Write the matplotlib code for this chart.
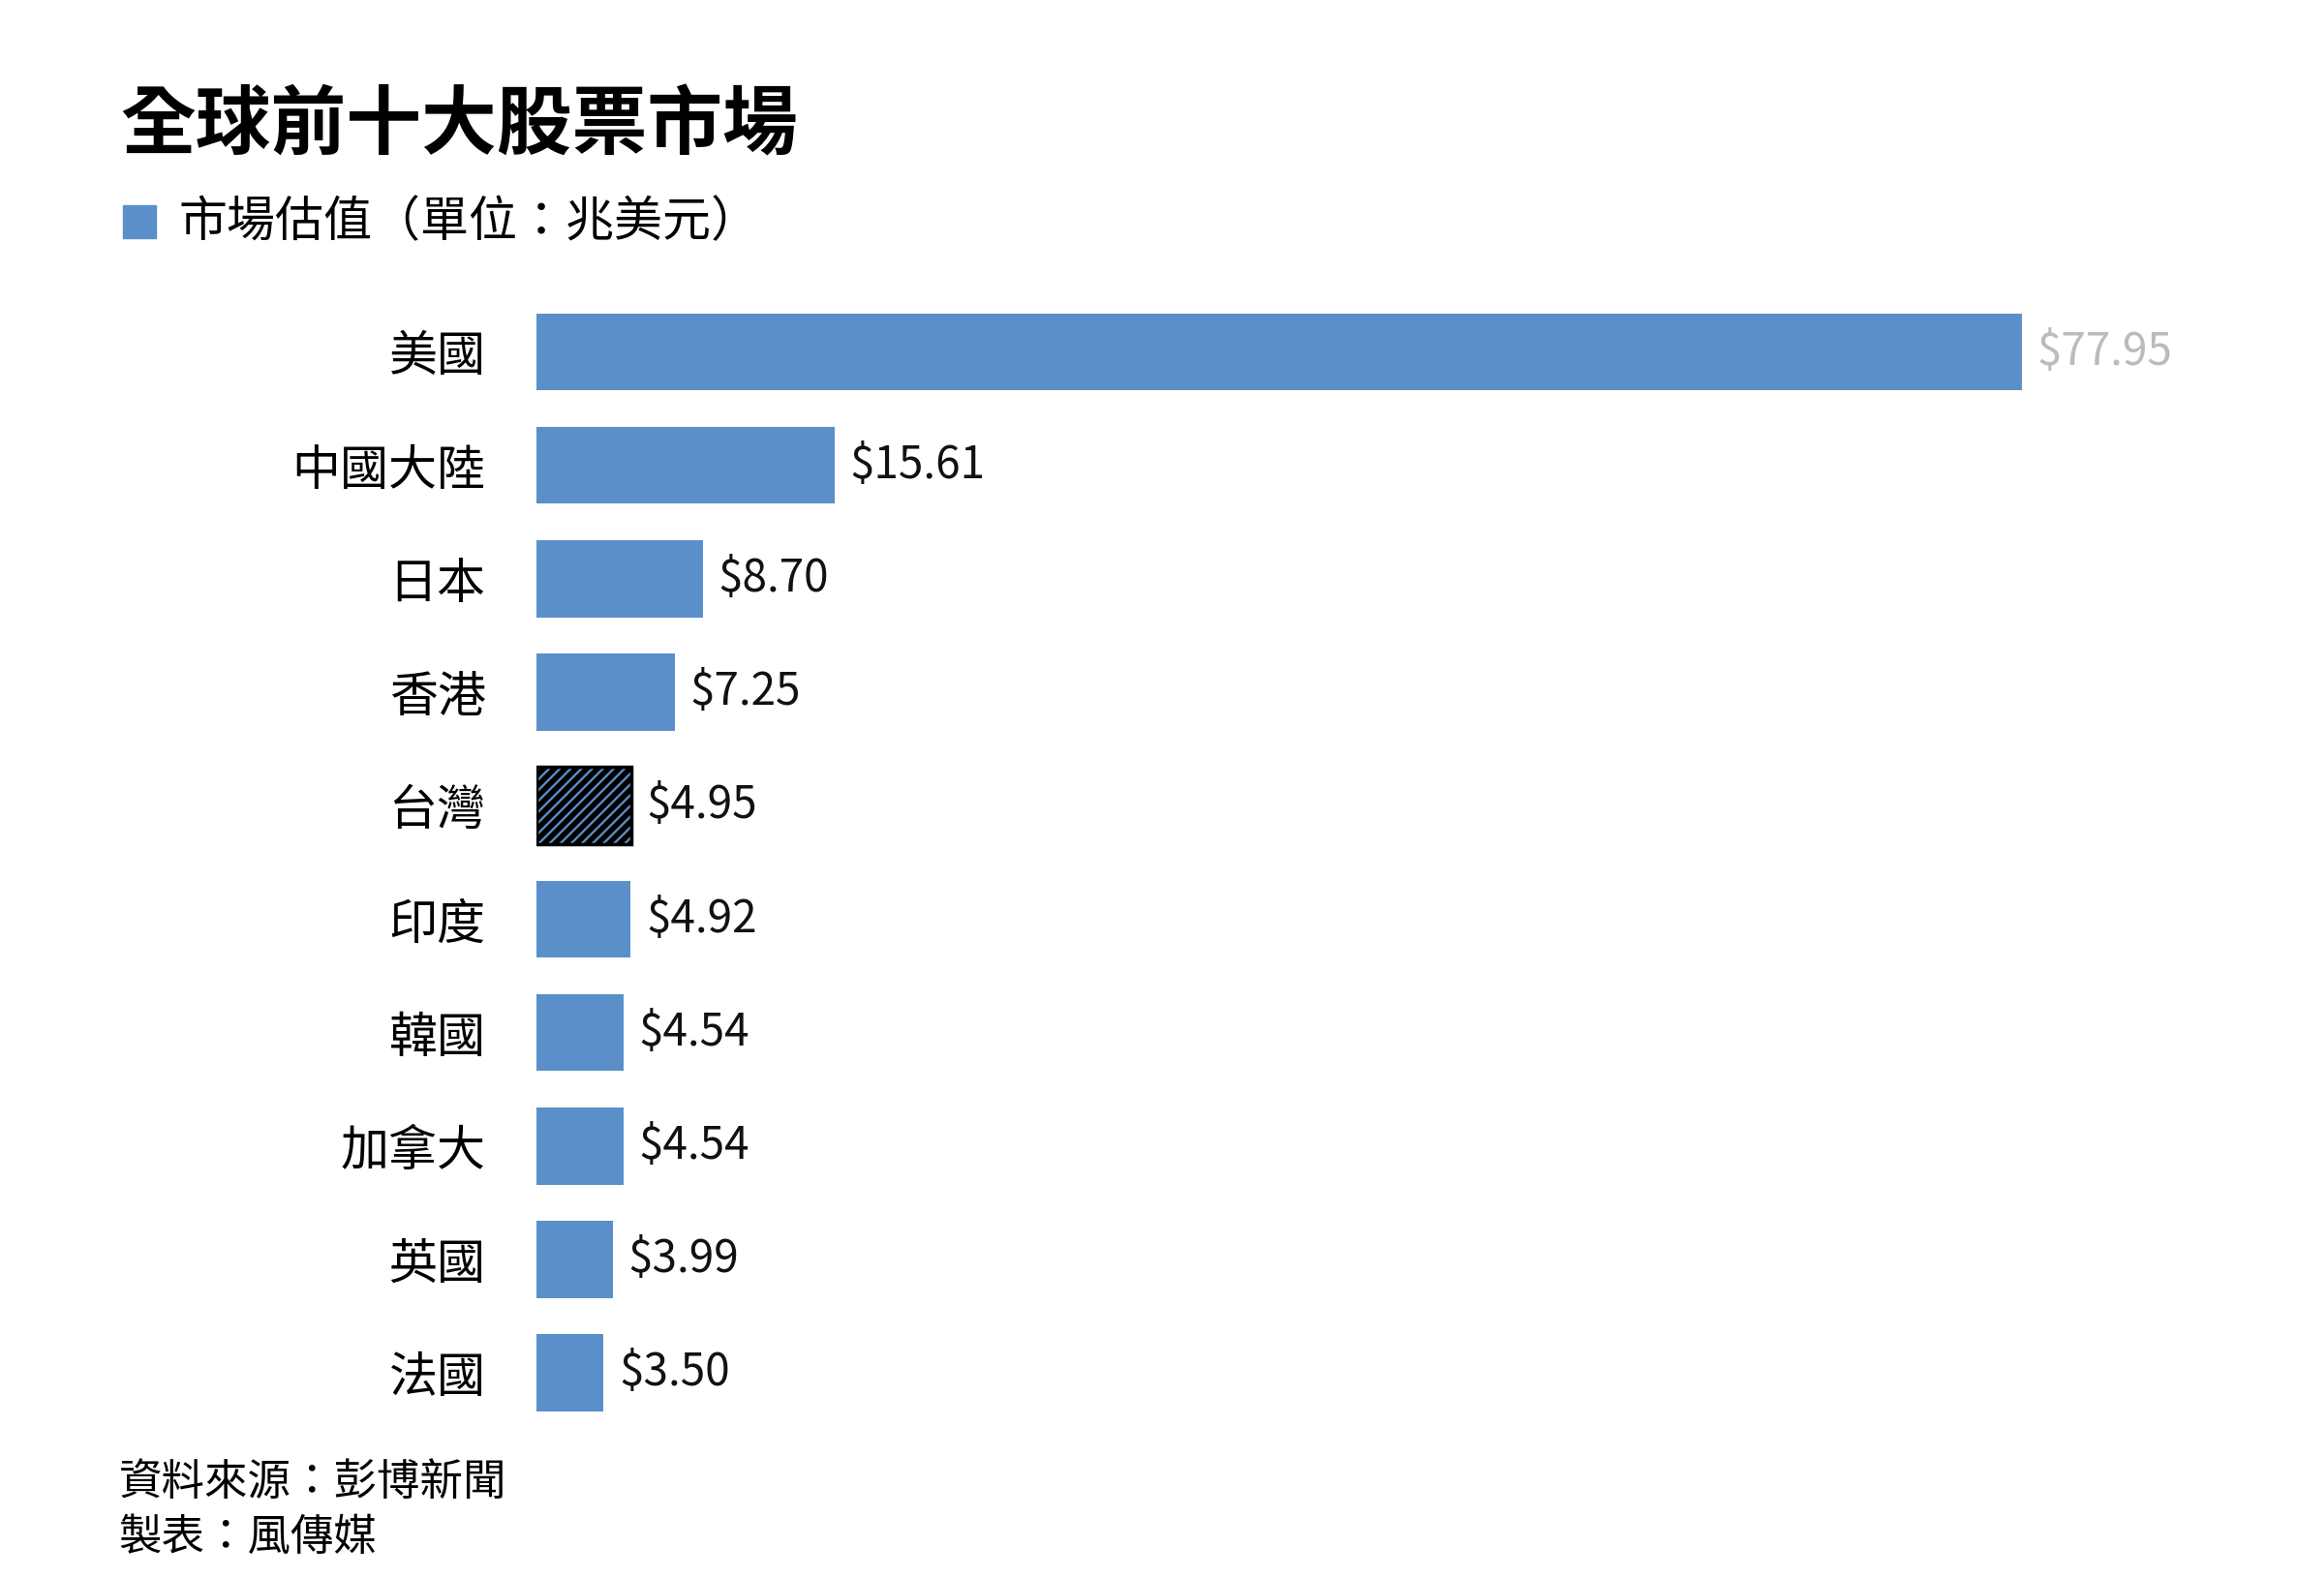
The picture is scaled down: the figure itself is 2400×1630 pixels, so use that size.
import matplotlib
matplotlib.use("Agg")
import matplotlib.pyplot as plt
from matplotlib.patches import Rectangle

plt.rcParams['font.family'] = ['Noto Sans CJK TC', 'DejaVu Sans']
plt.rcParams['hatch.linewidth'] = 4

countries = ["美國", "中國大陸", "日本", "香港", "台灣", "印度", "韓國", "加拿大", "英國", "法國"]
values = [77.95, 15.61, 8.70, 7.25, 4.95, 4.92, 4.54, 4.54, 3.99, 3.50]
value_labels = ["$77.95", "$15.61", "$8.70", "$7.25", "$4.95", "$4.92", "$4.54", "$4.54", "$3.99", "$3.50"]

blue = "#5B8FC9"
fig = plt.figure(figsize=(24, 16.3), dpi=100)
ax = fig.add_axes([0.231, 0.094, 0.639, 0.719])
for i, (c, v) in enumerate(zip(countries, values)):
    if c == "台灣":
        ax.barh(i, v, height=0.68, color=blue, edgecolor="black", hatch="///", linewidth=2.5)
    else:
        ax.barh(i, v, height=0.68, color=blue)
    col = "#bbbbbb" if i == 0 else "#111111"
    ax.text(v + 0.8, i, value_labels[i], va="center", ha="left", fontsize=33, color=col)
ax.set_xlim(0, 77.95)
ax.set_ylim(9.5, -0.5)
ax.set_yticks(range(len(countries)))
ax.set_yticklabels(countries, fontsize=36)
ax.tick_params(axis="y", length=0, pad=38)
ax.set_xticks([])
for s in ax.spines.values():
    s.set_visible(False)

fig.text(0.052, 0.92, "全球前十大股票市場", fontsize=56, fontweight="bold", va="center")
fig.patches.append(Rectangle((0.053, 0.849), 0.014, 0.021, transform=fig.transFigure, color=blue))
fig.text(0.077, 0.859, "市場估值（單位：兆美元）", fontsize=36, va="center")
fig.text(0.051, 0.061, "資料來源：彭博新聞", fontsize=32, va="center")
fig.text(0.051, 0.026, "製表：風傳媒", fontsize=32, va="center")
fig.savefig("out.png", dpi=100, facecolor="white")
